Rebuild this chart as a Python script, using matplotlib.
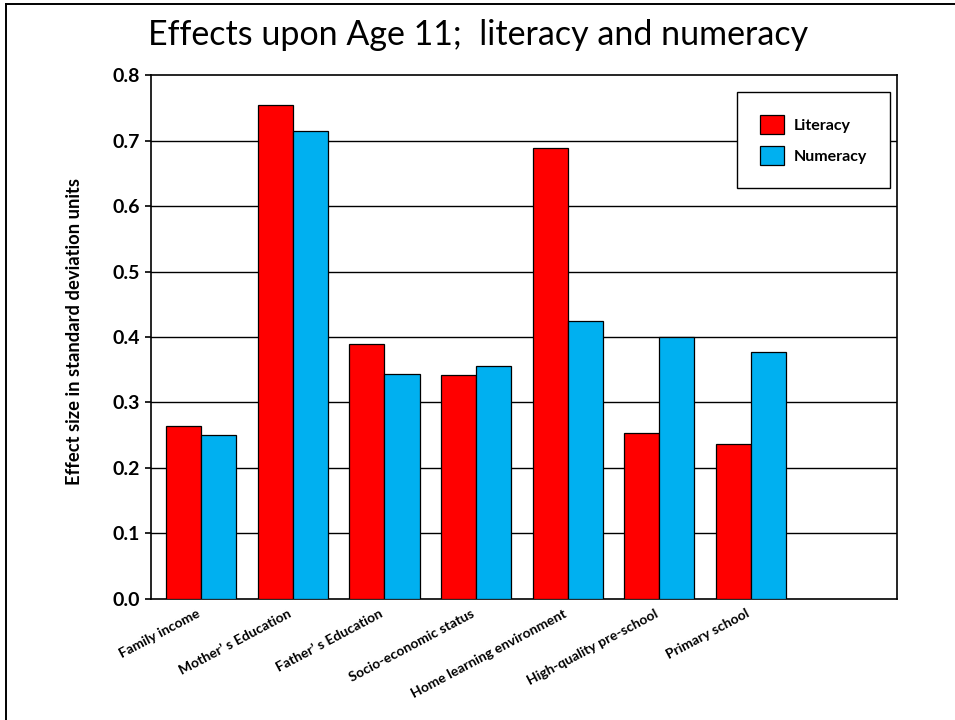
import matplotlib
matplotlib.use("Agg")
import matplotlib.pyplot as plt
import matplotlib.transforms as mtransforms
import numpy as np
from matplotlib.lines import Line2D

# --- Data ---
categories = [
    "Family income",
    "Mother\u2019 s Education",
    "Father\u2019 s Education",
    "Socio-economic status",
    "Home learning environment",
    "High-quality pre-school",
    "Primary school",
]
literacy = [0.264, 0.754, 0.389, 0.342, 0.689, 0.254, 0.237]
numeracy = [0.250, 0.715, 0.343, 0.356, 0.425, 0.400, 0.377]
y_ticks = [0.0, 0.1, 0.2, 0.3, 0.4, 0.5, 0.6, 0.7, 0.8]

RED = "#FF0000"
BLUE = "#00B0F0"

plt.rcParams["font.family"] = ["Lato", "DejaVu Sans"]

fig = plt.figure(figsize=(9.55, 7.2), dpi=100)
ax = fig.add_axes([0.1581, 0.1681, 0.7812, 0.7277])

x = np.arange(len(categories))
width = 0.383

ax.bar(x - width / 2, literacy, width, color=RED, edgecolor="black",
       linewidth=0.9, label="Literacy", zorder=3)
ax.bar(x + width / 2, numeracy, width, color=BLUE, edgecolor="black",
       linewidth=0.9, label="Numeracy", zorder=3)

# horizontal gridlines behind the bars
for yv in y_ticks[1:-1]:
    ax.axhline(yv, color="black", linewidth=1.0, zorder=1)

ax.set_xlim(-0.548, 7.594)
ax.set_ylim(0, 0.8)
ax.set_yticks(y_ticks)
ax.set_yticklabels([f"{v:.1f}" for v in y_ticks], fontsize=14, fontweight="bold")
ax.tick_params(axis="y", direction="out", length=4, width=1.2, pad=4)

ax.set_xticks(x)
ax.set_xticklabels(categories, rotation=28, ha="right", va="top",
                   rotation_mode="anchor", fontsize=10, fontweight="bold")
ax.tick_params(axis="x", length=0, pad=6)
shift = mtransforms.ScaledTranslation(-5 / 100, 0, fig.dpi_scale_trans)
for lbl in ax.get_xticklabels():
    lbl.set_transform(lbl.get_transform() + shift)

for side in ["left", "bottom", "top", "right"]:
    ax.spines[side].set_linewidth(1.2)
    ax.spines[side].set_color("black")

leg = ax.legend(loc="upper right", bbox_to_anchor=(0.991, 0.968),
                borderaxespad=0, fancybox=False, shadow=False, framealpha=1,
                edgecolor="black", prop={"weight": "bold", "size": 11.5},
                handlelength=1.5, handleheight=1.44, labelspacing=0.75,
                handletextpad=0.6, borderpad=1.45)
leg.get_frame().set_linewidth(1.0)

fig.text(0.0785, 0.540, "Effect size in standard deviation units",
         rotation=90, ha="center", va="center", fontsize=13.2, fontweight="bold")

fig.text(0.5005, 0.951, "Effects upon Age 11;  literacy and numeracy",
         ha="center", va="center", fontsize=24.5, fontweight="normal")

# slide border along the left and top edges
fig.add_artist(Line2D([5.5 / 955, 5.5 / 955], [0, 1 - 4 / 720],
                      transform=fig.transFigure, color="black", linewidth=1.4))
fig.add_artist(Line2D([5.5 / 955, 1], [1 - 4 / 720, 1 - 4 / 720],
                      transform=fig.transFigure, color="black", linewidth=1.4))

fig.savefig("out.png", dpi=100)
